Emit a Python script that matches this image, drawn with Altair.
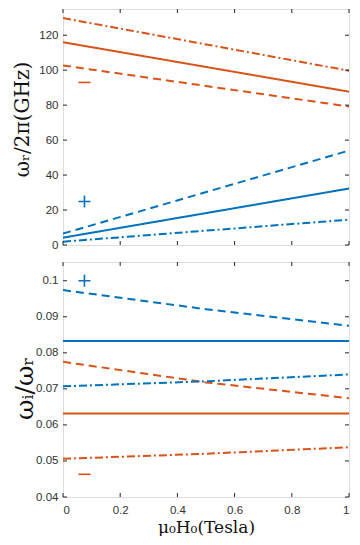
import altair as alt
import pandas as pd

# ---------------- data ----------------
x_two = [0.0, 1.0]
x_three = [0.0, 0.5, 1.0]

# top panel: omega_r / 2pi (GHz)
top_orange_dashdot = [129.8, 99.7]
top_orange_solid = [116.0, 87.7]
top_orange_dashed = [102.7, 79.2]
top_blue_dashed = [6.5, 54.0]
top_blue_solid = [4.2, 32.3]
top_blue_dashdot = [1.9, 14.5]

# bottom panel: omega_i / omega_r
bot_blue_dashed = [0.0974, 0.0921, 0.0875]
bot_blue_solid = [0.0833, 0.0833, 0.0833]
bot_orange_dashed = [0.0775, 0.0718, 0.0674]
bot_blue_dashdot = [0.0707, 0.0721, 0.0740]
bot_orange_solid = [0.0632, 0.0632, 0.0632]
bot_orange_dashdot = [0.0506, 0.0520, 0.0538]

# branch markers ("+" and "−")
marker_x = [0.075, 0.075]
top_marker_y = [24.9, 93.0]        # plus, minus
bot_marker_y = [0.1000, 0.0463]    # plus, minus
marker_branch = ["plus", "minus"]

x_ticks = [0, 0.2, 0.4, 0.6, 0.8, 1.0]
top_y_ticks = [0, 20, 40, 60, 80, 100, 120]
bot_y_ticks = [0.04, 0.05, 0.06, 0.07, 0.08, 0.09, 0.1]

top_domain = [0, 135]
bot_domain = [0.04, 0.1052]

# ---------------- styling ----------------
W, H1, H2 = 286, 236, 235
AX = "#262626"
LAB = "#333333"
TFONT = "DejaVu Serif"
BLUE, ORANGE = "#0072BD", "#D95319"
color_scale = alt.Scale(domain=["plus", "minus"], range=[BLUE, ORANGE])
dash_scale = alt.Scale(domain=["solid", "dashed", "dashdot"],
                       range=[[1, 0], [8, 5], [8, 3, 2, 3]])


def frame(xs, series):
    rows = []
    for ys, branch, style in series:
        for xv, yv in zip(xs, ys):
            rows.append({"x": xv, "y": yv, "branch": branch, "style": style})
    return pd.DataFrame(rows)


top_df = frame(x_two, [
    (top_orange_dashdot, "minus", "dashdot"),
    (top_orange_solid, "minus", "solid"),
    (top_orange_dashed, "minus", "dashed"),
    (top_blue_dashed, "plus", "dashed"),
    (top_blue_solid, "plus", "solid"),
    (top_blue_dashdot, "plus", "dashdot"),
])
bot_df = frame(x_three, [
    (bot_blue_dashed, "plus", "dashed"),
    (bot_blue_solid, "plus", "solid"),
    (bot_orange_dashed, "minus", "dashed"),
    (bot_blue_dashdot, "plus", "dashdot"),
    (bot_orange_solid, "minus", "solid"),
    (bot_orange_dashdot, "minus", "dashdot"),
])

xscale = alt.Scale(domain=[0, 1], nice=False, zero=False)


def panel(df, ydomain, yticks, yfmt, marker_y, height, ytitle, title_size,
          title_x, title_y, show_x):
    yscale = alt.Scale(domain=ydomain, nice=False, zero=False)
    if show_x:
        xaxis = alt.Axis(values=x_ticks, format="~g", ticks=False, domain=False,
                         grid=False, labelPadding=7, labelFontSize=11.5,
                         labelFont="Liberation Sans", labelColor=LAB,
                         title="μ₀H₀(Tesla)", titleFont=TFONT,
                         titleFontSize=17, titleFontWeight="normal",
                         titleColor="#111111", titlePadding=4)
    else:
        xaxis = None
    yaxis = alt.Axis(values=yticks, format=yfmt, ticks=False, domain=False,
                     grid=False, labelPadding=5, labelFontSize=11.5,
                     labelFont="Liberation Sans", labelColor=LAB,
                     title=ytitle, titleFont=TFONT,
                     titleFontSize=title_size, titleFontWeight="normal",
                     titleColor="#111111", titleX=title_x, titleY=title_y,
                     titleBaseline="middle", titleAngle=270)
    X = alt.X("x:Q", scale=xscale, axis=xaxis)
    Y = alt.Y("y:Q", scale=yscale, axis=yaxis)
    lines = alt.Chart(df).mark_line(strokeWidth=2, clip=True).encode(
        x=X, y=Y,
        color=alt.Color("branch:N", scale=color_scale, legend=None),
        strokeDash=alt.StrokeDash("style:N", scale=dash_scale, legend=None),
    )
    mdf = pd.DataFrame({"x": marker_x, "y": marker_y, "branch": marker_branch})
    plus = alt.Chart(mdf[mdf.branch == "plus"]).mark_point(
        shape="M-1,0L1,0M0,-1L0,1", size=144, strokeWidth=1.6, filled=False,
        opacity=1, color=BLUE).encode(x=X, y=Y)
    minus = alt.Chart(mdf[mdf.branch == "minus"]).mark_point(
        shape="M-1,0L1,0", size=144, strokeWidth=1.6, filled=False,
        opacity=1, color=ORANGE).encode(x=X, y=Y)
    ydf = pd.DataFrame({"y": yticks})
    xdf = pd.DataFrame({"x": x_ticks})
    tl = 4
    ytick_l = alt.Chart(ydf).mark_rule(color=AX, strokeWidth=1).encode(
        y=Y, x=alt.value(0), x2=alt.value(tl))
    ytick_r = alt.Chart(ydf).mark_rule(color=AX, strokeWidth=1).encode(
        y=Y, x=alt.value(W - tl), x2=alt.value(W))
    xtick_b = alt.Chart(xdf).mark_rule(color=AX, strokeWidth=1).encode(
        x=X, y=alt.value(height - tl), y2=alt.value(height))
    xtick_t = alt.Chart(xdf).mark_rule(color=AX, strokeWidth=1).encode(
        x=X, y=alt.value(0), y2=alt.value(tl))
    return alt.layer(lines, plus, minus, ytick_l, ytick_r, xtick_b, xtick_t
                     ).properties(width=W, height=height)


top = panel(top_df, top_domain, top_y_ticks, "d", top_marker_y, H1,
            "ωᵣ/2π(GHz)", 20, -41, 110, False)
bottom = panel(bot_df, bot_domain, bot_y_ticks, "~g", bot_marker_y, H2,
               "ωᵢ/ωᵣ", 25, -39, 126, True)

chart = alt.vconcat(top, bottom, spacing=17, bounds="flush").properties(
    padding={"left": 3, "top": 0, "right": 0, "bottom": 0}
).configure_view(stroke=AX, strokeWidth=1).configure(background="white")

chart.save("out.html", embed_options={"renderer": "svg", "actions": False})
